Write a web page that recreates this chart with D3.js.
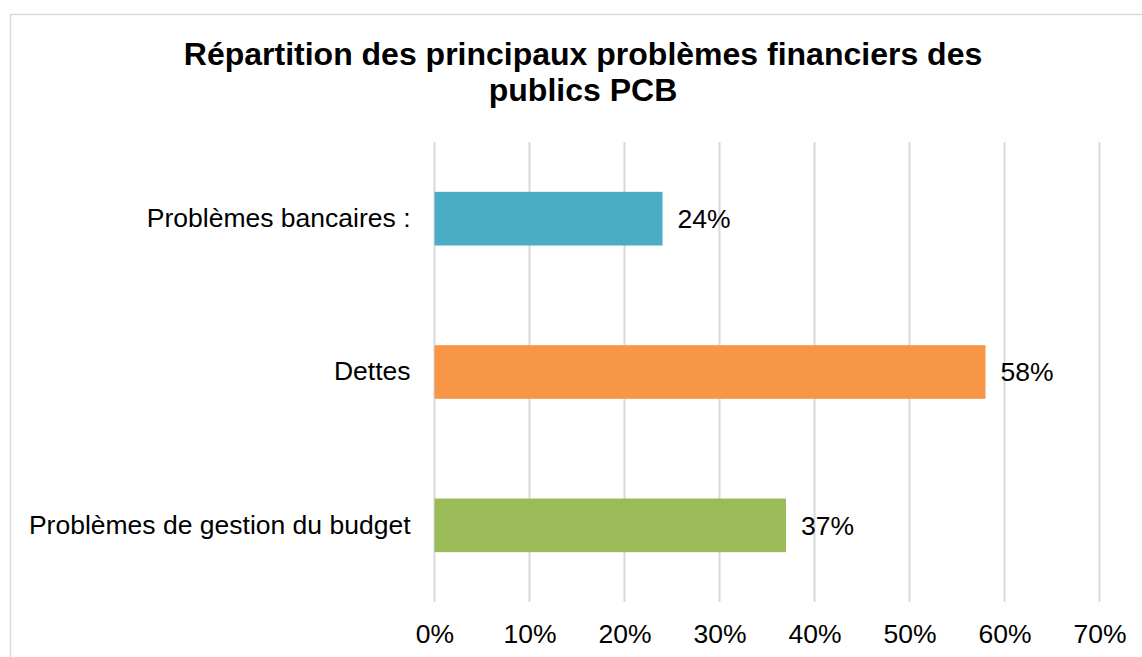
<!DOCTYPE html>
<html>
<head>
<meta charset="utf-8">
<script src="https://cdn.jsdelivr.net/npm/d3@7"></script>
<style>
  body { margin: 0; background: #fff; }
  svg { display: block; font-family: "Liberation Sans", Arial, sans-serif; }
</style>
</head>
<body>
<svg width="1142" height="657"></svg>
<script>
// data
var categories = ["Problèmes bancaires :", "Dettes", "Problèmes de gestion du budget"];
var values = [0.24, 0.58, 0.37];
var colors = ["#4BACC6", "#F79646", "#9BBB59"];
var ticks = [0, 0.1, 0.2, 0.3, 0.4, 0.5, 0.6, 0.7];
var titleLines = ["Répartition des principaux problèmes financiers des", "publics PCB"];

var svg = d3.select("svg");

// chart frame (runs off the right and bottom edges)
svg.append("rect")
  .attr("x", 10.5).attr("y", 14.5)
  .attr("width", 1145).attr("height", 660)
  .attr("fill", "#fff").attr("stroke", "#d9d9d9").attr("stroke-width", 1.5);

var plot = { left: 434.5, right: 1099.5, top: 142, bottom: 602 };
var fs = 26.5;

var x = d3.scaleLinear().domain([0, 0.7]).range([plot.left, plot.right]);
var y = d3.scaleBand().domain(categories).range([plot.top, plot.bottom]).paddingInner(0.65).paddingOuter(0.325);

// title
svg.append("text")
  .attr("x", 583).attr("y", 65)
  .attr("text-anchor", "middle")
  .attr("font-weight", "bold").attr("font-size", 32)
  .selectAll("tspan").data(titleLines).enter().append("tspan")
  .attr("x", 583).attr("dy", function(d, i) { return i ? 36 : 0; })
  .text(function(d) { return d; });

// vertical gridlines
svg.append("g").selectAll("line").data(ticks).enter().append("line")
  .attr("x1", function(d) { return x(d); }).attr("x2", function(d) { return x(d); })
  .attr("y1", plot.top).attr("y2", plot.bottom)
  .attr("stroke", "#d9d9d9").attr("stroke-width", 2);

// x axis labels
var xAxis = d3.axisBottom(x).tickValues(ticks).tickFormat(d3.format(".0%")).tickSize(0).tickPadding(0);
var gx = svg.append("g").attr("transform", "translate(0," + (643 - 0.71 * fs) + ")").call(xAxis);
gx.select(".domain").remove();
gx.selectAll("text").attr("font-size", fs).attr("fill", "#000").attr("font-family", "Liberation Sans, Arial, sans-serif");

// category labels
var yAxis = d3.axisLeft(y).tickSize(0).tickPadding(24);
var gy = svg.append("g").attr("transform", "translate(" + plot.left + ",0)").call(yAxis);
gy.select(".domain").remove();
gy.selectAll("text").attr("font-size", fs).attr("fill", "#000").attr("font-family", "Liberation Sans, Arial, sans-serif");

// bars
svg.append("g").selectAll("rect").data(values).enter().append("rect")
  .attr("x", x(0))
  .attr("y", function(d, i) { return y(categories[i]); })
  .attr("width", function(d) { return x(d) - x(0); })
  .attr("height", y.bandwidth())
  .attr("fill", function(d, i) { return colors[i]; });

// value labels
svg.append("g").selectAll("text").data(values).enter().append("text")
  .attr("x", function(d) { return x(d) + 15; })
  .attr("y", function(d, i) { return y(categories[i]) + y.bandwidth() / 2; })
  .attr("dy", "0.35em")
  .attr("font-size", fs)
  .text(function(d) { return d3.format(".0%")(d); });
</script>
</body>
</html>
